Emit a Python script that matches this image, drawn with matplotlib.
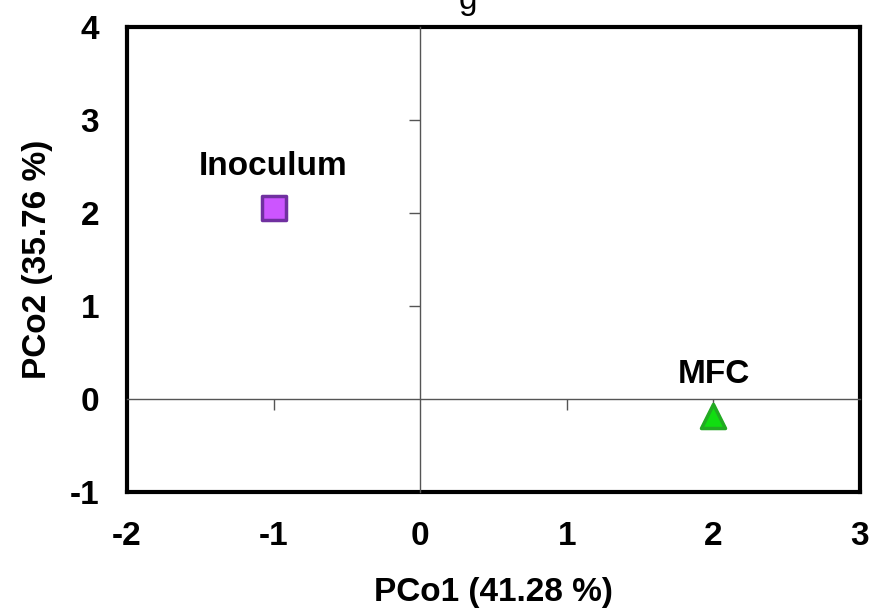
import matplotlib.pyplot as plt

plt.rcParams['font.family'] = ['Liberation Sans', 'DejaVu Sans']
plt.rcParams['axes.unicode_minus'] = False

# PCoA scores
samples = ['Inoculum', 'MFC']
pco1 = [-1.0, 2.0]
pco2 = [2.05, -0.18]
markers = ['s', '^']
fills = ['#CC55FF', '#11DD11']
edges = ['#7030A0', '#22AA22']

xticks = [-2, -1, 0, 1, 2, 3]
yticks = [-1, 0, 1, 2, 3, 4]

fig = plt.figure(figsize=(8.74, 6.08), dpi=100)
pos = [127 / 874, 1 - 492 / 608, (860 - 127) / 874, (492 - 27) / 608]
ax = fig.add_axes(pos)
ax.set_xlim(-2, 3)
ax.set_ylim(-1, 4)
ax.set_xticks(xticks)
ax.set_yticks(yticks)
ax.tick_params(length=0, labelsize=24)
ax.tick_params(axis='x', pad=21)
ax.tick_params(axis='y', pad=20)
for lab in ax.get_xticklabels() + ax.get_yticklabels():
    lab.set_fontweight('bold')
for s in ax.spines.values():
    s.set_linewidth(3)
ax.set_xlabel('PCo1 (41.28 %)', fontsize=24, fontweight='bold', labelpad=18)
ax.set_ylabel('PCo2 (35.76 %)', fontsize=24, fontweight='bold', labelpad=12)

# inner zero axes with small ticks
ax2 = fig.add_axes(pos)
ax2.set_xlim(-2, 3)
ax2.set_ylim(-1, 4)
ax2.patch.set_visible(False)
ax2.spines['top'].set_visible(False)
ax2.spines['right'].set_visible(False)
ax2.spines['left'].set_position(('data', 0))
ax2.spines['bottom'].set_position(('data', 0))
for s in ['left', 'bottom']:
    ax2.spines[s].set_color('#555555')
    ax2.spines[s].set_linewidth(1)
ax2.tick_params(direction='out', length=8, color='#555555', width=1,
                labelleft=False, labelbottom=False)
ax2.set_xticks([-1, 1, 2])
ax2.set_yticks([1, 2, 3])

for i, name in enumerate(samples):
    ax2.scatter(pco1[i], pco2[i], marker=markers[i], s=300, c=fills[i],
                edgecolors=edges[i], linewidths=2.5, zorder=5, clip_on=False)
    ax2.text(pco1[i], pco2[i] + 0.28, name, ha='center', va='bottom',
             fontsize=24, fontweight='bold')

fig.text(0.535, 1.0, 'g', ha='center', va='center', fontsize=24)

fig.savefig('out.png', dpi=100)
